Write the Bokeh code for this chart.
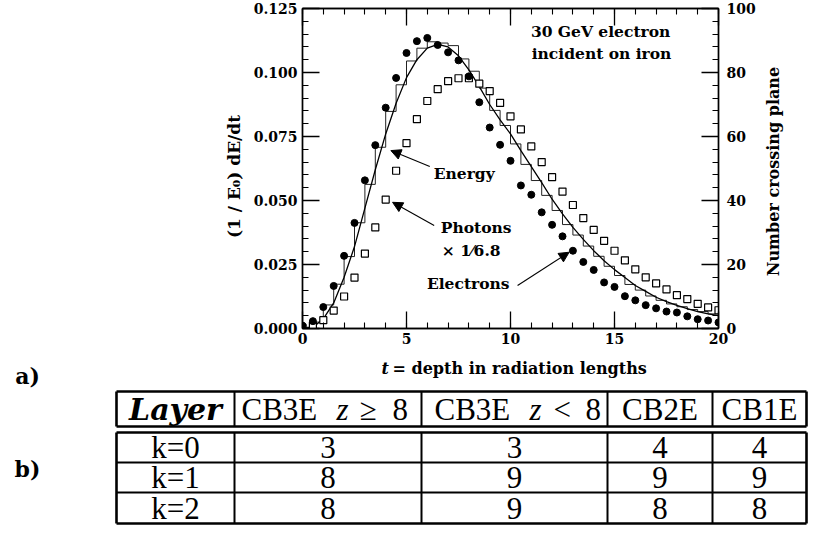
import math
from bokeh.plotting import figure
from bokeh.models import (Range1d, LinearAxis, SingleIntervalTicker, NumeralTickFormatter,
                          CustomJSTickFormatter, Label, Arrow, NormalHead)
from bokeh.layouts import column, row
from bokeh.embed import file_html
from bokeh.resources import INLINE
from bokeh.core.properties import value

SERIF = "DejaVu Serif"
TFONT = "Liberation Serif"

# ---------------- data: panel a) ----------------
depth = [0.0, 0.5, 1.0, 1.5, 2.0, 2.5, 3.0, 3.5, 4.0, 4.5, 5.0, 5.5, 6.0, 6.5, 7.0, 7.5,
         8.0, 8.5, 9.0, 9.5, 10.0, 10.5, 11.0, 11.5, 12.0, 12.5, 13.0, 13.5, 14.0, 14.5,
         15.0, 15.5, 16.0, 16.5, 17.0, 17.5, 18.0, 18.5, 19.0, 19.5, 20.0]

# energy deposit histogram, one value per 0.5 X0 bin (left axis)
energy_hist = [0.0005, 0.0025, 0.0092, 0.0173, 0.0281, 0.0413, 0.0563, 0.0708, 0.0848, 0.0952,
               0.1045, 0.1095, 0.1120, 0.1115, 0.1105, 0.1053, 0.1005, 0.0939, 0.0852, 0.0793,
               0.0721, 0.0641, 0.0578, 0.0520, 0.0461, 0.0406, 0.0365, 0.0322, 0.0282, 0.0243,
               0.0207, 0.0172, 0.0150, 0.0127, 0.0110, 0.0096, 0.0085, 0.0074, 0.0066, 0.0057]

# fitted energy profile (left axis)
energy_fit = [0.0000, 0.0004, 0.0038, 0.0100, 0.0200, 0.0320, 0.0470, 0.0620, 0.0760, 0.0880,
              0.0980, 0.1050, 0.1095, 0.1110, 0.1100, 0.1065, 0.1010, 0.0945, 0.0875, 0.0815,
              0.0760, 0.0695, 0.0632, 0.0570, 0.0505, 0.0448, 0.0395, 0.0348, 0.0304, 0.0265,
              0.0230, 0.0199, 0.0168, 0.0145, 0.0122, 0.0105, 0.0090, 0.0078, 0.0066, 0.0057,
              0.0050]

# number crossing plane (right axis)
electrons = [0.9, 2.3, 6.7, 13.3, 22.7, 33.0, 46.3, 57.3, 69.0, 78.3, 86.1, 89.8, 90.8, 88.6,
             86.3, 83.8, 78.8, 70.7, 62.8, 57.4, 52.4, 44.7, 41.8, 36.3, 32.4, 28.8, 24.3, 20.8,
             18.3, 14.4, 13.0, 10.1, 8.8, 7.3, 6.3, 5.3, 5.0, 3.8, 2.9, 2.5, 1.9]
photons_scaled = [0.2, 0.9, 2.6, 5.6, 10.0, 15.9, 23.4, 31.6, 40.3, 49.3, 57.9, 65.4, 71.1, 74.8,
                  77.3, 78.2, 78.2, 76.5, 74.2, 70.5, 66.3, 62.2, 56.9, 52.0, 47.3, 42.8, 38.6,
                  34.5, 30.8, 27.4, 24.3, 21.3, 18.5, 16.0, 14.1, 12.2, 10.4, 9.2, 7.7, 6.6, 5.7]

# ---------------- data: panel b) ----------------
row_labels = ["k=0", "k=1", "k=2"]
cb3e_ge8 = ["3", "8", "8"]
cb3e_lt8 = ["3", "9", "9"]
cb2e = ["4", "9", "8"]
cb1e = ["4", "9", "8"]

# ================= layout sizes =================
W = 815
L_W = 245          # left strip holding the left axis title
R_X = 760          # start of right strip holding the right axis title
P_W = R_X - L_W
P_H = 352

# ================= figure a) =================
p = figure(width=P_W, height=P_H, x_range=Range1d(0, 20), y_range=Range1d(0, 0.125),
           output_backend="svg", toolbar_location=None,
           x_axis_location=None, y_axis_location=None,
           min_border_left=302 - L_W, min_border_right=R_X - 718,
           min_border_top=8, min_border_bottom=24)
p.frame_align = False
p.extra_y_ranges = {"right": Range1d(0, 100)}
p.grid.visible = False
p.outline_line_color = "black"
p.outline_line_width = 1.4
p.background_fill_color = "white"
p.border_fill_color = "white"


def style_axis(ax, labels=True):
    ax.major_tick_in = 17
    ax.major_tick_out = 0
    ax.minor_tick_in = 6
    ax.minor_tick_out = 0
    ax.major_tick_line_width = 1.3
    ax.minor_tick_line_width = 1.1
    ax.major_tick_line_color = "black"
    ax.minor_tick_line_color = "black"
    ax.axis_line_color = "black"
    ax.axis_line_width = 1.4
    ax.major_label_text_font = SERIF
    ax.major_label_text_font_style = "bold"
    ax.major_label_text_font_size = "14px" if labels else "0px"
    ax.major_label_text_color = "black"


yl = LinearAxis(ticker=SingleIntervalTicker(interval=0.025, num_minor_ticks=5),
                formatter=NumeralTickFormatter(format="0.000"))
style_axis(yl)
yl.major_label_standoff = 5
p.add_layout(yl, "left")

yr = LinearAxis(y_range_name="right", ticker=SingleIntervalTicker(interval=20, num_minor_ticks=5))
style_axis(yr)
yr.major_label_standoff = 8
p.add_layout(yr, "right")

xb = LinearAxis(ticker=SingleIntervalTicker(interval=5, num_minor_ticks=5))
style_axis(xb)
xb.major_label_standoff = 4
p.add_layout(xb, "below")

xt = LinearAxis(ticker=SingleIntervalTicker(interval=5, num_minor_ticks=5),
                formatter=CustomJSTickFormatter(code="return ''"))
style_axis(xt, labels=False)
xt.major_label_standoff = 0
p.add_layout(xt, "above")

# histogram
p.step(depth, energy_hist + [energy_hist[-1]], mode="after", line_color="#222222", line_width=1.0)
# fitted curve
p.line(depth, energy_fit, line_color="black", line_width=1.3)
# photons / 6.8
p.scatter(depth, photons_scaled, y_range_name="right", marker="square", size=7,
          fill_color="white", line_color="black", line_width=1.2)
# electrons
p.scatter(depth, electrons, y_range_name="right", marker="circle", size=7,
          fill_color="black", line_color="black")

txt = dict(text_font=SERIF, text_font_style="bold", text_font_size="15.5px",
           text_color="black", text_baseline="middle")
p.add_layout(Label(x=10.98, y=0.1160, text="30 GeV electron", **txt))
p.add_layout(Label(x=11.02, y=0.1074, text="incident on iron", **txt))
p.add_layout(Label(x=6.31, y=0.0605, text="Energy", **txt))
p.add_layout(Label(x=6.65, y=0.0395, text="Photons", **txt))
p.add_layout(Label(x=6.70, y=0.0305, text="× 1⁄6.8", **txt))
p.add_layout(Label(x=5.98, y=0.0176, text="Electrons", **txt))

ah = dict(line_color="black", line_width=1.1)
p.add_layout(Arrow(end=NormalHead(size=10, fill_color="black", line_color="black"),
                   x_start=6.12, y_start=0.0633, x_end=4.25, y_end=0.0695, **ah))
p.add_layout(Arrow(end=NormalHead(size=10, fill_color="black", line_color="black"),
                   x_start=6.33, y_start=0.0402, x_end=4.33, y_end=0.0493, **ah))
p.add_layout(Arrow(end=NormalHead(size=10, fill_color="black", line_color="black"),
                   x_start=10.34, y_start=0.0168, x_end=12.82, y_end=0.0298, **ah))


def strip(x0, x1):
    f = figure(width=x1 - x0, height=P_H, x_range=Range1d(x0, x1), y_range=Range1d(P_H, 0),
               output_backend="svg", toolbar_location=None,
               x_axis_location=None, y_axis_location=None, min_border=0)
    f.frame_align = False
    f.grid.visible = False
    f.outline_line_color = None
    return f


# left axis title (reads bottom to top)
lft = strip(0, L_W)
lft.text(x=[233], y=[176], text=["(1 / E₀) dE/dt"], angle=math.pi / 2,
         text_font=value(SERIF), text_font_style="bold", text_font_size="17px",
         text_color="black", text_align="center", text_baseline="middle")

# right axis title (reads bottom to top)
rgt = strip(R_X, W)
rgt.text(x=[773], y=[171], text=["Number crossing plane"], angle=math.pi / 2,
         text_font=value(SERIF), text_font_style="bold", text_font_size="16px",
         text_color="black", text_align="center", text_baseline="middle")

# ================= figure b) (x title, tags and table) =================
TOP, BOT = P_H, 547
t = figure(width=W, height=BOT - TOP, x_range=Range1d(0, W), y_range=Range1d(BOT, TOP),
           output_backend="svg", toolbar_location=None,
           x_axis_location=None, y_axis_location=None, min_border=0)
t.frame_align = False
t.grid.visible = False
t.outline_line_color = None

# x-axis title of panel a) with italic t
t.text(x=[381], y=[368], text=["t"], text_font=value(SERIF), text_font_style="bold italic",
       text_font_size="16px", text_color="black", text_baseline="middle", text_align="left")
t.text(x=[392], y=[368], text=["= depth in radiation lengths"], text_font=value(SERIF),
       text_font_style="bold", text_font_size="16px", text_color="black",
       text_baseline="middle", text_align="left")

# panel tags
t.text(x=[27, 27], y=[375, 468], text=["a)", "b)"], text_font=value(SERIF),
       text_font_style="bold", text_font_size="22px", text_color="black",
       text_baseline="middle", text_align="center")

col_edges = [116, 234, 421, 607, 712, 806]
hdr_top, hdr_bot, body_top, body_bot = 391, 426, 432, 523
row_lines = [462, 492]
hdr_y = 408.5
row_y = [447, 477, 507.5]

# header box
t.segment(x0=[col_edges[0]] * 2, y0=[hdr_top, hdr_bot], x1=[col_edges[-1]] * 2,
          y1=[hdr_top, hdr_bot], line_color="black", line_width=2.6)
t.segment(x0=[col_edges[0], col_edges[-1]], y0=[hdr_top] * 2, x1=[col_edges[0], col_edges[-1]],
          y1=[hdr_bot] * 2, line_color="black", line_width=2.6)
t.segment(x0=col_edges[1:-1], y0=[hdr_top] * 4, x1=col_edges[1:-1], y1=[hdr_bot] * 4,
          line_color="black", line_width=2.0)
# body box
t.segment(x0=[col_edges[0]] * 2, y0=[body_top, body_bot], x1=[col_edges[-1]] * 2,
          y1=[body_top, body_bot], line_color="black", line_width=2.6)
t.segment(x0=[col_edges[0], col_edges[-1]], y0=[body_top] * 2, x1=[col_edges[0], col_edges[-1]],
          y1=[body_bot] * 2, line_color="black", line_width=2.6)
t.segment(x0=col_edges[1:-1], y0=[body_top] * 4, x1=col_edges[1:-1], y1=[body_bot] * 4,
          line_color="black", line_width=2.0)
t.segment(x0=[col_edges[0]] * 2, y0=row_lines, x1=[col_edges[-1]] * 2, y1=row_lines,
          line_color="black", line_width=2.0)

tf = dict(text_font=value(TFONT), text_font_size="31px", text_color="black",
          text_baseline="middle")
# header texts
t.text(x=[(col_edges[0] + col_edges[1]) / 2], y=[hdr_y], text=["Layer"],
       text_font=value(SERIF), text_font_style="bold italic", text_font_size="30px",
       text_color="black", text_baseline="middle", text_align="center")
t.text(x=[241, 434], y=[hdr_y] * 2, text=["CB3E", "CB3E"], text_align="left", **tf)
t.text(x=[336, 529], y=[hdr_y] * 2, text=["z", "z"], text_align="left",
       text_font_style="italic", **tf)
t.text(x=[359, 553], y=[hdr_y] * 2, text=["≥", "<"], text_align="left", **tf)
t.text(x=[392, 585], y=[hdr_y] * 2, text=["8", "8"], text_align="left", **tf)
t.text(x=[(col_edges[3] + col_edges[4]) / 2, (col_edges[4] + col_edges[5]) / 2], y=[hdr_y] * 2,
       text=["CB2E", "CB1E"], text_align="center", **tf)

# body texts
centers = [(col_edges[i] + col_edges[i + 1]) / 2 for i in range(5)]
for ci, colvals in enumerate([row_labels, cb3e_ge8, cb3e_lt8, cb2e, cb1e]):
    t.text(x=[centers[ci]] * 3, y=row_y, text=colvals, text_align="center", **tf)

layout = column(row(lft, p, rgt, spacing=0), t, spacing=0)
open("out.html", "w").write(file_html(layout, INLINE))
